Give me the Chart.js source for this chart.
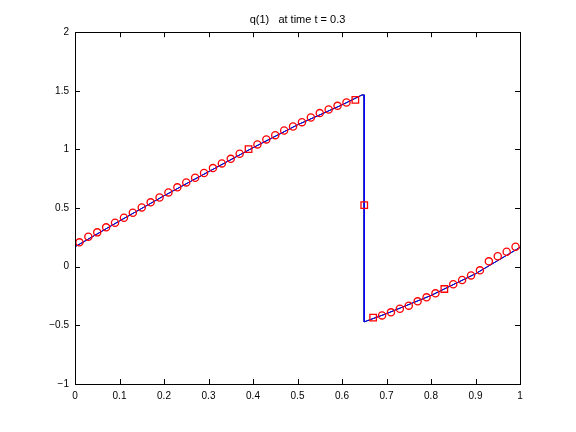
<!DOCTYPE html>
<html>
<head>
<meta charset="utf-8">
<script src="https://cdn.jsdelivr.net/npm/chart.js@4"></script>
<style>
  html, body { margin:0; padding:0; background:#fff; }
  .wrap { width:576px; height:432px; }
</style>
</head>
<body>
<div class="wrap"><canvas id="c" width="576" height="432"></canvas></div>
<script>
// cell centres and computed q(1)
const cellX = [0.01,0.03,0.05,0.07,0.09,0.11,0.13,0.15,0.17,0.19,
               0.21,0.23,0.25,0.27,0.29,0.31,0.33,0.35,0.37,0.39,
               0.41,0.43,0.45,0.47,0.49,0.51,0.53,0.55,0.57,0.59,
               0.61,0.63,0.65,0.67,0.69,0.71,0.73,0.75,0.77,0.79,
               0.81,0.83,0.85,0.87,0.89,0.91,0.93,0.95,0.97,0.99];
const cellQ = [0.208,0.256,0.293,0.336,0.375,0.418,0.460,0.506,0.549,0.591,
               0.634,0.677,0.719,0.759,0.799,0.841,0.881,0.920,0.963,1.003,
               1.043,1.086,1.122,1.162,1.196,1.233,1.273,1.310,1.341,1.372,
               1.401,1.423,0.526,-0.434,-0.415,-0.389,-0.358,-0.332,-0.295,-0.261,
               -0.227,-0.190,-0.150,-0.113,-0.074,-0.031,0.046,0.089,0.128,0.170];
// reference solution (piecewise, with the jump)
const refX = [0, 0.1, 0.2, 0.3, 0.4, 0.5, 0.6, 0.645, 0.65, 0.65, 0.7, 0.8, 0.9, 1.0];
const refQ = [0.17, 0.39, 0.605, 0.81, 1.015, 1.21, 1.38, 1.465, 1.465, -0.47, -0.40, -0.245, -0.06, 0.165];

const squareAt = [0.39, 0.63, 0.65, 0.67, 0.83];
const markerStyle = cellX.map(x => squareAt.includes(x) ? 'rect' : 'circle');
const markerRadius = cellX.map(x => squareAt.includes(x) ? 4.6 : 3.6);

const pts = (xs, ys) => xs.map((x, i) => ({ x: x, y: ys[i] }));

// matlab style box with inward ticks on all four sides
const boxTicks = {
  id: 'boxTicks',
  afterDraw(chart) {
    const ctx = chart.ctx, a = chart.chartArea;
    const xs = chart.scales.x, ys = chart.scales.y, tl = 5;
    ctx.save();
    ctx.strokeStyle = '#000'; ctx.lineWidth = 1;
    ctx.strokeRect(Math.round(a.left) + 0.5, Math.round(a.top) + 0.5,
                   Math.round(a.right - a.left), Math.round(a.bottom - a.top));
    ctx.beginPath();
    xs.ticks.forEach(t => {
      const px = Math.round(xs.getPixelForValue(t.value)) + 0.5;
      ctx.moveTo(px, a.bottom); ctx.lineTo(px, a.bottom - tl);
      ctx.moveTo(px, a.top); ctx.lineTo(px, a.top + tl);
    });
    ys.ticks.forEach(t => {
      const py = Math.round(ys.getPixelForValue(t.value)) + 0.5;
      ctx.moveTo(a.left, py); ctx.lineTo(a.left + tl, py);
      ctx.moveTo(a.right, py); ctx.lineTo(a.right - tl, py);
    });
    ctx.stroke();
    ctx.restore();
  }
};

const tickFont = { family: 'Liberation Sans, Arial, Helvetica, sans-serif', size: 10 };

new Chart(document.getElementById('c').getContext('2d'), {
  type: 'scatter',
  data: {
    datasets: [
      { label: 'exact', data: pts(refX, refQ), showLine: true, borderColor: '#000',
        borderWidth: 1, pointRadius: 0, order: 3 },
      { label: 'ref', data: pts(refX, refQ), showLine: true, borderColor: '#0000ff',
        borderWidth: 1, pointRadius: 0, order: 2 },
      { label: 'q', data: pts(cellX, cellQ), showLine: false, borderColor: '#ff0000',
        backgroundColor: 'rgba(0,0,0,0)', borderWidth: 1.3,
        pointStyle: markerStyle, pointRadius: markerRadius, order: 1 }
    ]
  },
  options: {
    responsive: false, animation: false,
    layout: { padding: { left: 0, right: 56, top: 0, bottom: 0 } },
    scales: {
      x: {
        type: 'linear', min: 0, max: 1,
        grid: { display: false, drawTicks: false }, border: { display: false },
        ticks: { stepSize: 0.1, color: '#000', font: tickFont, padding: 6, maxRotation: 0,
                 callback: v => String(Math.round(v * 10) / 10) },
        afterFit: s => { s.height = 48; }
      },
      y: {
        type: 'linear', min: -1, max: 2,
        grid: { display: false, drawTicks: false }, border: { display: false },
        ticks: { stepSize: 0.5, color: '#000', font: tickFont, padding: 6,
                 callback: v => String(v).replace('-', '\u2212') },
        afterFit: s => { s.width = 75; }
      }
    },
    plugins: {
      legend: { display: false },
      tooltip: { enabled: false },
      title: { display: true, text: 'q(1)   at time t = 0.3', color: '#000', fullSize: false,
               font: { family: 'Liberation Sans, Arial, sans-serif', size: 11, weight: 'normal' },
               padding: { top: 13, bottom: 6 } }
    }
  },
  plugins: [boxTicks]
});
</script>
</body>
</html>
